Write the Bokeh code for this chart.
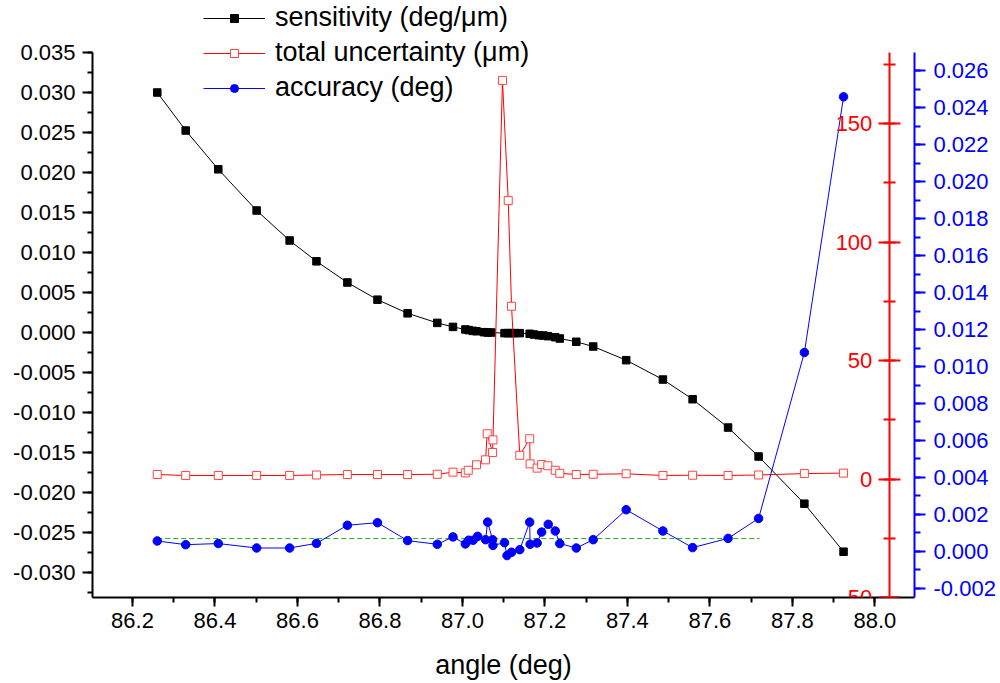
from bokeh.plotting import figure
from bokeh.models import (Range1d, LinearAxis, SingleIntervalTicker, NumeralTickFormatter,
                          Legend, LegendItem)
from bokeh.embed import file_html
from bokeh.resources import INLINE

# ---------------- data ----------------
sens_angle = [86.260, 86.329, 86.408, 86.501, 86.581, 86.646, 86.721, 86.794, 86.867, 86.939,
              86.977, 87.007, 87.015, 87.025, 87.034, 87.052, 87.061, 87.070, 87.102, 87.110,
              87.119, 87.126, 87.139, 87.163, 87.173, 87.185, 87.196, 87.207, 87.225, 87.236,
              87.276, 87.317, 87.397, 87.486, 87.558, 87.644, 87.718, 87.829, 87.924]
sensitivity = [0.0300, 0.02525, 0.0204, 0.01525, 0.0115, 0.0089, 0.00625, 0.0041, 0.0024, 0.0012,
               0.0007, 0.00038, 0.0003, 0.0002, 0.00016, 0.00004, 0.0, 0.0, -0.00008, -0.00008,
               -0.00008, -0.00008, -0.00008, -0.00016, -0.00025, -0.00034, -0.00038, -0.00046, -0.00059, -0.00075,
               -0.00116, -0.00175, -0.00346, -0.00588, -0.00834, -0.01188, -0.0155, -0.0214, -0.0274]

unc_angle = [86.260, 86.329, 86.408, 86.501, 86.581, 86.646, 86.721, 86.794, 86.867, 86.939,
             86.977, 87.007, 87.014, 87.034, 87.056, 87.060, 87.073, 87.074, 87.097, 87.111,
             87.119, 87.139, 87.163, 87.164, 87.181, 87.192, 87.207, 87.225, 87.236, 87.276,
             87.317, 87.397, 87.486, 87.558, 87.644, 87.718, 87.829, 87.924]
uncertainty = [1.9, 1.5, 1.5, 1.5, 1.5, 1.7, 1.9, 1.9, 1.9, 2.0,
               2.9, 2.6, 3.7, 6.0, 8.1, 19.1, 11.2, 16.5, 168.2, 117.5,
               72.9, 10.0, 17.0, 6.4, 4.6, 6.1, 5.6, 3.7, 2.4, 1.9,
               2.0, 2.2, 1.5, 1.6, 1.5, 1.7, 2.3, 2.5]

acc_angle = [86.260, 86.329, 86.408, 86.501, 86.581, 86.646, 86.721, 86.794, 86.867, 86.939,
             86.977, 87.007, 87.015, 87.026, 87.037, 87.056, 87.061, 87.073, 87.074, 87.102,
             87.108, 87.119, 87.139, 87.163, 87.164, 87.181, 87.192, 87.208, 87.225, 87.236,
             87.276, 87.317, 87.397, 87.486, 87.558, 87.644, 87.718, 87.829, 87.924]
accuracy = [0.00056, 0.00036, 0.00042, 0.00018, 0.00018, 0.00043, 0.00141, 0.00155, 0.00058, 0.00038,
            0.00078, 0.00040, 0.00060, 0.00060, 0.00081, 0.00063, 0.00158, 0.00063, 0.00032, 0.00047,
            -0.00023, -0.00005, 0.00009, 0.00158, 0.00038, 0.00045, 0.00104, 0.00146, 0.00110, 0.00042,
            0.00018, 0.00063, 0.00225, 0.00110, 0.00020, 0.00070, 0.00178, 0.01076, 0.02460]

mean_angle = [86.26, 87.72]
mean_accuracy = [0.00069, 0.00069]

series_labels = ["sensitivity (deg/\u03bcm)", "total uncertainty (\u03bcm)", "accuracy (deg)"]
x_label = "angle (deg)"

# axis extents (the axes stop at these values; the plot area above holds the legend)
sens_bounds = (-0.033125, 0.035)
unc_bounds = (-50, 180)
acc_bounds = (-0.0025, 0.027)

FONT = "Liberation Sans"

# ---------------- figure ----------------
p = figure(width=1000, height=683, output_backend="svg", toolbar_location=None,
           x_range=Range1d(86.103, 88.096), y_range=Range1d(-0.033125, 0.0415),
           min_border_left=92, min_border_right=86, min_border_top=0, min_border_bottom=86,
           background_fill_color="white", border_fill_color="white")
p.extra_y_ranges = {"unc": Range1d(-50, 201.94), "acc": Range1d(-0.0025, 0.029815)}
p.xgrid.visible = False
p.ygrid.visible = False
p.outline_line_color = None

# bottom axis
xa = p.xaxis[0]
xa.ticker = SingleIntervalTicker(interval=0.2, num_minor_ticks=2)
xa.formatter = NumeralTickFormatter(format="0.0")
xa.axis_label = x_label
xa.axis_label_text_font = FONT
xa.axis_label_text_font_size = "27px"
xa.axis_label_text_font_style = "normal"
xa.axis_label_text_color = "black"
xa.axis_label_standoff = 19
xa.major_label_text_font = FONT
xa.major_label_text_font_size = "22px"
xa.major_label_text_color = "black"
xa.major_label_standoff = 6
xa.major_tick_out = 9
xa.major_tick_in = 0
xa.minor_tick_out = 5
xa.minor_tick_in = 0
xa.axis_line_width = 2
xa.major_tick_line_width = 2
xa.minor_tick_line_width = 2

# left black axis
ya = p.yaxis[0]
ya.bounds = sens_bounds
ya.ticker = SingleIntervalTicker(interval=0.005, num_minor_ticks=2)
ya.formatter = NumeralTickFormatter(format="0.000")
ya.major_label_text_font = FONT
ya.major_label_text_font_size = "22px"
ya.major_label_text_color = "black"
ya.major_label_standoff = 7
ya.major_tick_out = 10
ya.major_tick_in = 0
ya.minor_tick_out = 5
ya.minor_tick_in = 0
ya.axis_line_width = 2
ya.major_tick_line_width = 2
ya.minor_tick_line_width = 2

# red axis, drawn inside at the right end of the x range
red_axis = LinearAxis(y_range_name="unc", fixed_location=88.035, bounds=unc_bounds,
                      ticker=SingleIntervalTicker(interval=50, num_minor_ticks=2),
                      formatter=NumeralTickFormatter(format="0"),
                      axis_line_color="#ff0000", axis_line_width=2,
                      major_tick_line_color="#ff0000", major_tick_line_width=2,
                      minor_tick_line_color="#ff0000", minor_tick_line_width=2,
                      major_tick_in=11, major_tick_out=11, minor_tick_in=6, minor_tick_out=6,
                      major_label_text_color="#ff0000", major_label_text_font=FONT,
                      major_label_text_font_size="22px", major_label_standoff=6)
p.add_layout(red_axis, "left")

# blue axis on the right
blue_axis = LinearAxis(y_range_name="acc", bounds=acc_bounds,
                       ticker=SingleIntervalTicker(interval=0.002, num_minor_ticks=2),
                       formatter=NumeralTickFormatter(format="0.000"),
                       axis_line_color="#0000ff", axis_line_width=2,
                       major_tick_line_color="#0000ff", major_tick_line_width=2,
                       minor_tick_line_color="#0000ff", minor_tick_line_width=2,
                       major_tick_in=0, major_tick_out=11, minor_tick_in=0, minor_tick_out=6,
                       major_label_text_color="#0000ff", major_label_text_font=FONT,
                       major_label_text_font_size="22px", major_label_standoff=8)
p.add_layout(blue_axis, "right")

# ---------------- glyphs ----------------
gm = p.line(mean_angle, mean_accuracy, y_range_name="acc", line_color="#22aa22",
            line_width=1, line_dash="5 3")

l1 = p.line(sens_angle, sensitivity, line_color="#000000", line_width=1)
s1 = p.scatter(sens_angle, sensitivity, marker="square", size=7.5,
               fill_color="#000000", line_color="#000000")

l2 = p.line(unc_angle, uncertainty, y_range_name="unc", line_color="#ff0000", line_width=1)
s2 = p.scatter(unc_angle, uncertainty, y_range_name="unc", marker="square", size=8,
               fill_color="white", line_color="#ff4444", line_width=1)

l3 = p.line(acc_angle, accuracy, y_range_name="acc", line_color="#0000ff", line_width=1)
s3 = p.scatter(acc_angle, accuracy, y_range_name="acc", marker="circle", size=8.5,
               fill_color="#0000ff", line_color="#0000ff")

legend = Legend(items=[LegendItem(label=series_labels[0], renderers=[l1, s1]),
                       LegendItem(label=series_labels[1], renderers=[l2, s2]),
                       LegendItem(label=series_labels[2], renderers=[l3, s3])],
                location=(111, 492), orientation="vertical",
                glyph_width=62, glyph_height=20, label_height=35, spacing=0,
                padding=0, margin=0, label_standoff=10,
                label_text_font=FONT, label_text_font_size="27px", label_text_color="black",
                border_line_color=None, background_fill_alpha=0)
p.add_layout(legend)

open("out.html", "w").write(file_html(p, INLINE))
